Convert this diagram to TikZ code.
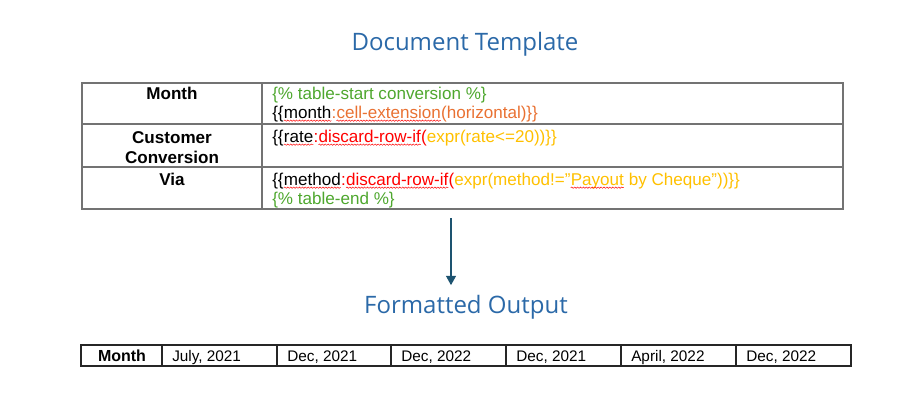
\documentclass[tikz,border=0pt]{standalone}
\usepackage{fontspec}
\usetikzlibrary{arrows.meta,decorations.pathmorphing}
\setmainfont{Liberation Sans}
\newfontfamily\titlefont{Open Sans}

\definecolor{tplgreen}{HTML}{4EA72E}
\definecolor{tplorange}{HTML}{E97132}
\definecolor{tplred}{HTML}{FF0000}
\definecolor{tplyellow}{HTML}{FFC000}
\definecolor{titleblue}{HTML}{2B69A8}
\definecolor{arrowblue}{HTML}{1D5370}

\newcommand\redwave[1]{\tikz[baseline=(w.base)]{\node[inner sep=0pt,outer sep=0pt,anchor=base west] (w) {#1};
  \draw[tplred,line width=0.35pt,decorate,decoration={snake,amplitude=0.5pt,segment length=2.2pt}] ([yshift=-2pt]w.base west) -- ([yshift=-2pt]w.base east);}}

\begin{document}
\begin{tikzpicture}[x=0.75pt,y=-0.75pt,
  title/.style={font=\titlefont\fontsize{18}{22}\selectfont,text=titleblue,inner sep=0pt,anchor=base},
  cell/.style={font=\fontsize{12.8}{15}\selectfont,inner sep=0pt,anchor=base west},
  head/.style={font=\bfseries\fontsize{12.8}{15}\selectfont,inner sep=0pt,anchor=base},
  obold/.style={font=\bfseries\fontsize{12}{14}\selectfont,inner sep=0pt,anchor=base},
  date/.style={font=\fontsize{11.5}{13}\selectfont,inner sep=0pt,anchor=base west},
  rule/.style={draw=black!55,line width=1.1pt},
  outrule/.style={draw=black!85,line width=0.8pt},
  flow/.style={draw=arrowblue,line width=0.8pt,-{Triangle[width=7.5pt,length=7pt]}}]

\useasboundingbox (0,0) rectangle (904,404);

\def\tl{82}
\def\tr{843}
\def\tcol{262}
\def\ttop{83}
\def\tbot{209}

% template table
\node[title] (tpltitle) at (465,50) {Document Template};

\draw[rule] (\tl,\ttop) rectangle (\tr,\tbot);
\draw[rule] (\tl,124) -- (\tr,124);
\draw[rule] (\tl,167) -- (\tr,167);
\draw[rule] (\tcol,\ttop) -- (\tcol,\tbot);

\node[head] (hmonth) at (172,99) {Month};
\node[head,align=center,anchor=center] (hconv) at (172,148) {Customer\\Conversion};
\node[head] (hvia) at (172,185) {Via};

\node[cell] (tstart) at (272,99) {\color{tplgreen}\{\% table-start conversion \%\}};
\node[cell] (tmonth) at (272,118) {\{\{\redwave{month}\textcolor{tplorange}{:\redwave{cell-extension}(horizontal)\}\}}};
\node[cell] (trate) at (272,142) {\{\{\redwave{rate}\textcolor{tplred}{:\redwave{discard-row-if}(}\textcolor{tplyellow}{expr(rate<=20))\}\}}};
\node[cell] (tmethod) at (272,185) {\{\{\redwave{method}\textcolor{tplred}{:\redwave{discard-row-if}(}\textcolor{tplyellow}{expr(method!="\redwave{Payout} by Cheque"))\}\}}};
\node[cell] (tend) at (272,204) {\color{tplgreen}\{\% table-end \%\}};

% output
\node[title] (outtitle) at (466,313) {Formatted Output};

\coordinate (tplfoot) at (451,218);
\draw[flow,shorten >=7pt] (tplfoot) -- (tplfoot |- outtitle.north);

\draw[outrule] (81,345) rectangle (851,366);
\foreach \x in {162,277,391,506,621,736}
  \draw[outrule] (\x,345) -- (\x,366);

\node[obold] (omonth) at (122,361) {Month};
\foreach \x/\d [count=\i] in {162/{July, 2021},277/{Dec, 2021},391/{Dec, 2022},506/{Dec, 2021},621/{April, 2022},736/{Dec, 2022}}
  \node[date] (date\i) at (\x+10,361) {\d};

\end{tikzpicture}
\end{document}
